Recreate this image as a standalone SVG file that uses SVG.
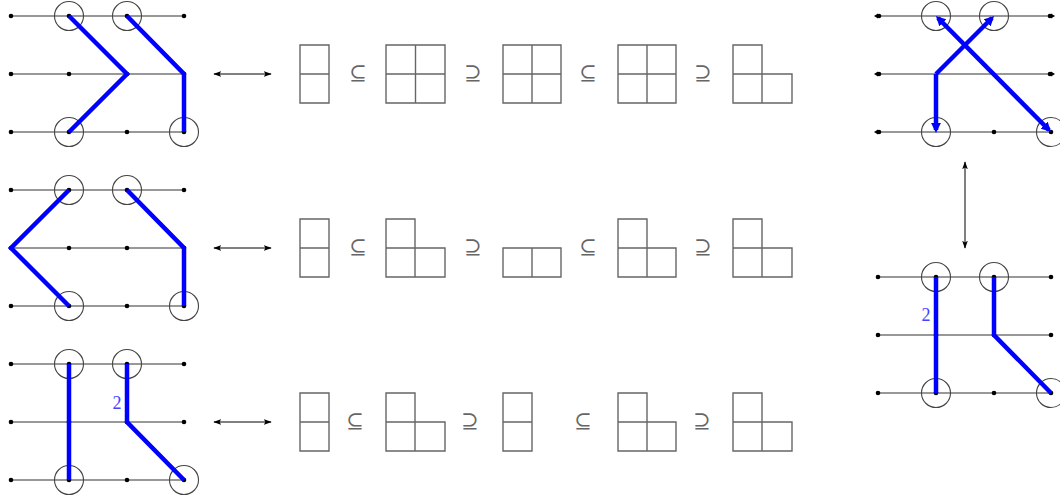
<svg xmlns="http://www.w3.org/2000/svg" width="1060" height="497" viewBox="0 0 1060 497">
<style>
.ln{stroke:#333;stroke-width:1.1;fill:none}
.cir{stroke:#444;stroke-width:1.1;fill:none}
.dot{fill:#000}
.bl{stroke:#0000ff;stroke-width:4.5;fill:none;stroke-linejoin:miter;stroke-linecap:butt}
.yb{stroke:#666;stroke-width:1.4;fill:none}
.sym{font-family:"DejaVu Serif","Liberation Serif",serif;font-size:21px;fill:#666;text-anchor:middle}
.lab{font-family:"Liberation Serif","DejaVu Serif",serif;font-size:18px;fill:#4444ff;text-anchor:middle}
.conn{stroke:#000;stroke-width:1;fill:none}
</style>
<defs>
<marker id="ah" viewBox="0 0 10 10" refX="9" refY="5" markerWidth="8" markerHeight="8" markerUnits="userSpaceOnUse" orient="auto-start-reverse">
<path d="M0,1.5 L10,5 L0,8.5 L2,5 Z" fill="#000"/>
</marker>
<marker id="bh" viewBox="0 0 10 10" refX="7" refY="5" markerWidth="2.2" markerHeight="2.2" orient="auto-start-reverse">
<path d="M0,0 L10,5 L0,10 Z" fill="#0000ff"/>
</marker>
<g id="grid">
<line class="ln" x1="11" y1="0" x2="184" y2="0"/>
<line class="ln" x1="11" y1="58" x2="184" y2="58"/>
<line class="ln" x1="11" y1="116" x2="184" y2="116"/>
<circle class="dot" cx="11" cy="0" r="2.3"/><circle class="dot" cx="69" cy="0" r="2.3"/><circle class="dot" cx="127" cy="0" r="2.3"/><circle class="dot" cx="184" cy="0" r="2.3"/>
<circle class="dot" cx="11" cy="58" r="2.3"/><circle class="dot" cx="69" cy="58" r="2.3"/><circle class="dot" cx="127" cy="58" r="2.3"/><circle class="dot" cx="184" cy="58" r="2.3"/>
<circle class="dot" cx="11" cy="116" r="2.3"/><circle class="dot" cx="69" cy="116" r="2.3"/><circle class="dot" cx="127" cy="116" r="2.3"/><circle class="dot" cx="184" cy="116" r="2.3"/>
<circle class="cir" cx="69" cy="0" r="14.5"/><circle class="cir" cx="127" cy="0" r="14.5"/>
<circle class="cir" cx="69" cy="116" r="14.5"/><circle class="cir" cx="184" cy="116" r="14.5"/>
</g>
</defs>

<g id="tl" transform="translate(0,16)">
<use href="#grid"/>
<polyline class="bl" points="69,0 127,58 69,116"/>
<polyline class="bl" points="127,0 184,58 184,116"/>
</g>
<g id="ml" transform="translate(0,190)">
<use href="#grid"/>
<polyline class="bl" points="69,0 11,58 69,116"/>
<polyline class="bl" points="127,0 184,58 184,116"/>
</g>
<g id="bl" transform="translate(0,364)">
<use href="#grid"/>
<polyline class="bl" points="69,0 69,116"/>
<polyline class="bl" points="127,0 127,58 184,116"/>
<text class="lab" x="117" y="45">2</text>
</g>
<g id="tr" transform="translate(867,16)">
<line class="ln" x1="11" y1="0" x2="184" y2="0"/>
<line class="ln" x1="11" y1="58" x2="184" y2="58"/>
<line class="ln" x1="11" y1="116" x2="184" y2="116"/>
<g class="dot">
<circle cx="12" cy="0" r="2.3"/><path d="M7,0 L11,-2.5 L11,2.5Z"/>
<circle cx="183" cy="0" r="2.3"/><path d="M188,0 L184,-2.5 L184,2.5Z"/>
<circle cx="12" cy="58" r="2.3"/><path d="M7,58 L11,55.5 L11,60.5Z"/>
<circle cx="183" cy="58" r="2.3"/><path d="M188,58 L184,55.5 L184,60.5Z"/>
<circle cx="12" cy="116" r="2.3"/><path d="M7,116 L11,113.5 L11,118.5Z"/>
<circle cx="127" cy="116" r="2.3"/>
<circle cx="184" cy="116" r="2.3"/>
</g>
<circle class="cir" cx="69" cy="0" r="14.5"/><circle class="cir" cx="127" cy="0" r="14.5"/>
<circle class="cir" cx="69" cy="116" r="14.5"/><circle class="cir" cx="184" cy="116" r="14.5"/>
<polyline class="bl" points="69,58 69,114" marker-end="url(#bh)"/>
<polyline class="bl" points="69,58 125,2" marker-end="url(#bh)"/>
<polyline class="bl" points="71,2 182,114" marker-start="url(#bh)" marker-end="url(#bh)"/>
</g>
<g id="br" transform="translate(867,277)">
<use href="#grid"/>
<polyline class="bl" points="69,0 69,116"/>
<polyline class="bl" points="127,0 127,58 184,116"/>
<text class="lab" x="59" y="44">2</text>
</g>

<g id="connectors">
<line class="conn" x1="214" y1="74" x2="271" y2="74" marker-start="url(#ah)" marker-end="url(#ah)"/>
<line class="conn" x1="214" y1="248" x2="271" y2="248" marker-start="url(#ah)" marker-end="url(#ah)"/>
<line class="conn" x1="214" y1="422" x2="271" y2="422" marker-start="url(#ah)" marker-end="url(#ah)"/>
<line class="conn" x1="965" y1="162" x2="965" y2="248" marker-start="url(#ah)" marker-end="url(#ah)"/>
</g>

<g id="row1">
<path class="yb" d="M300,45h29v58h-29z M300,74h29"/>
<text class="sym" x="358" y="80">⊆</text>
<path class="yb" d="M386,45h59v58h-59z M386,74h59 M415.5,45v58"/>
<text class="sym" x="473" y="80">⊇</text>
<path class="yb" d="M503,45h58v58h-58z M503,74h58 M532,45v58"/>
<text class="sym" x="588" y="80">⊆</text>
<path class="yb" d="M618,45h58v58h-58z M618,74h58 M647,45v58"/>
<text class="sym" x="703" y="80">⊇</text>
<path class="yb" d="M733,45h29v29h30v29h-59z M733,74h29 M762,74v29"/>
</g>
<g id="row2">
<path class="yb" d="M300,219h29v58h-29z M300,248h29"/>
<text class="sym" x="358" y="254">⊆</text>
<path class="yb" d="M386,219h29v29h30v29h-59z M386,248h29 M415,248v29"/>
<text class="sym" x="473" y="254">⊇</text>
<path class="yb" d="M503,248h58v29h-58z M532,248v29"/>
<text class="sym" x="588" y="254">⊆</text>
<path class="yb" d="M618,219h29v29h29v29h-58z M618,248h29 M647,248v29"/>
<text class="sym" x="703" y="254">⊇</text>
<path class="yb" d="M733,219h29v29h30v29h-59z M733,248h29 M762,248v29"/>
</g>
<g id="row3">
<path class="yb" d="M300,393h29v58h-29z M300,422h29"/>
<text class="sym" x="355" y="428">⊆</text>
<path class="yb" d="M386,393h29v29h30v29h-59z M386,422h29 M415,422v29"/>
<text class="sym" x="470" y="428">⊇</text>
<path class="yb" d="M503,393h29v58h-29z M503,422h29"/>
<text class="sym" x="583" y="428">⊆</text>
<path class="yb" d="M618,393h29v29h29v29h-58z M618,422h29 M647,422v29"/>
<text class="sym" x="702" y="428">⊇</text>
<path class="yb" d="M733,393h29v29h30v29h-59z M733,422h29 M762,422v29"/>
</g>
</svg>
